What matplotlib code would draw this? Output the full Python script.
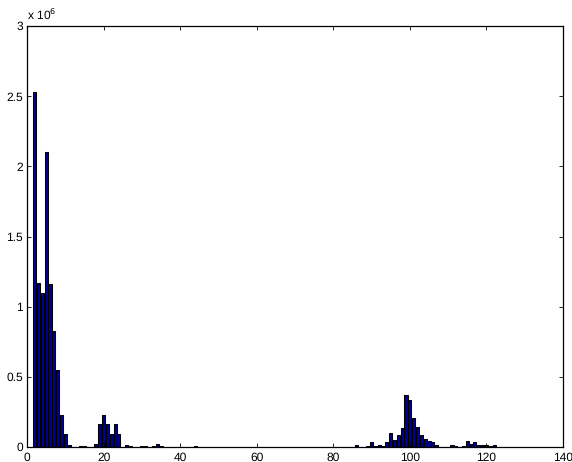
import numpy as np
import matplotlib
matplotlib.use("Agg")
import matplotlib.pyplot as plt

plt.rcParams["font.family"] = ["Liberation Sans", "DejaVu Sans"]
plt.rcParams["text.hinting"] = "none"
plt.rcParams["text.hinting_factor"] = 1

# bin position, count in units of 1e6
bins_left = [2, 3, 4, 5, 6, 7, 8, 9, 10, 11, 14, 15, 16,
             18, 19, 20, 21, 22, 23, 24, 26, 27, 30, 31, 33, 34, 35, 44]
counts_left = [2.53, 1.17, 1.10, 2.10, 1.16, 0.83, 0.546, 0.226, 0.093, 0.014, 0.005, 0.008, 0.003,
               0.024, 0.166, 0.23, 0.166, 0.093, 0.166, 0.093, 0.017, 0.007, 0.005, 0.005, 0.005, 0.018, 0.005, 0.005]
bins_right = [86, 88, 89, 90, 91, 92, 93, 94, 95, 96, 97, 98, 99, 100, 101, 102, 103, 104, 105, 106, 107, 108,
              111, 112, 113, 114, 115, 116, 117, 118, 119, 120, 121, 122]
counts_right = [0.012, 0.002, 0.005, 0.036, 0.005, 0.017, 0.007, 0.038, 0.10, 0.048, 0.088, 0.135, 0.373, 0.337,
                0.21, 0.145, 0.083, 0.057, 0.043, 0.033, 0.017, 0.002,
                0.017, 0.008, 0.003, 0.008, 0.045, 0.024, 0.038, 0.014, 0.012, 0.016, 0.007, 0.015]

xticks = [0, 20, 40, 60, 80, 100, 120, 140]
yticks = [0, 0.5, 1, 1.5, 2, 2.5, 3]
ylabels = ["0", "0.5", "1", "1.5", "2", "2.5", "3"]

fig = plt.figure(figsize=(5.72, 4.62), dpi=100)
ax = fig.add_axes([27 / 572, 1 - 447 / 462, (563 - 27) / 572, (447 - 26) / 462])

x = np.array(bins_left + bins_right)
y = np.array(counts_left + counts_right) * 1e6
ax.bar(x, y, width=0.8, color="#00008f", edgecolor="black", linewidth=0.75)

ax.set_xlim(0, 140)
ax.set_ylim(0, 3e6)
ax.set_xticks(xticks)
ax.set_yticks([v * 1e6 for v in yticks])
ax.set_yticklabels(ylabels)
ax.tick_params(direction="in", top=True, right=True, length=3, width=0.6, labelsize=8.3, pad=3)
ax.tick_params(axis="x", pad=3.5)
for s in ax.spines.values():
    s.set_linewidth(0.9)

ax.text(0.0, 1.01, r"x 10$^{6}$", transform=ax.transAxes, fontsize=8.3, ha="left", va="bottom",
        math_fontfamily="dejavusans")

plt.savefig("out.png", dpi=100)
plt.close()
